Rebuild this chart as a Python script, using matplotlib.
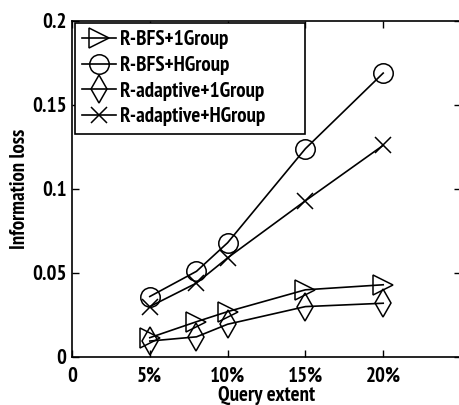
import matplotlib
matplotlib.use("Agg")
import matplotlib.pyplot as plt

# --- data ---
extent = [5, 8, 10, 15, 20]
bfs_1group = [0.0115, 0.021, 0.027, 0.040, 0.043]
bfs_hgroup = [0.036, 0.051, 0.068, 0.124, 0.169]
adapt_1group = [0.0095, 0.012, 0.0195, 0.030, 0.032]
adapt_hgroup = [0.030, 0.044, 0.059, 0.093, 0.126]

series_names = ["R-BFS+1Group", "R-BFS+HGroup", "R-adaptive+1Group", "R-adaptive+HGroup"]
x_ticks = [0, 5, 10, 15, 20]
x_ticklabels = ["0", "5%", "10%", "15%", "20%"]
y_ticks = [0, 0.05, 0.1, 0.15, 0.2]
y_ticklabels = ["0", "0.05", "0.1", "0.15", "0.2"]

plt.rcParams["font.family"] = ["PT Sans Narrow", "Archivo Narrow", "DejaVu Sans"]
plt.rcParams["font.weight"] = "bold"
plt.rcParams["axes.labelweight"] = "bold"

fig = plt.figure(figsize=(4.6, 4.05), dpi=100)
ax = fig.add_axes([72 / 460, 48 / 405, 389 / 460, 336 / 405])

styles = [(">", 14), ("o", 14), ("d", 14), ("x", 11)]
all_vals = [bfs_1group, bfs_hgroup, adapt_1group, adapt_hgroup]
for (marker, ms), vals, name in zip(styles, all_vals, series_names):
    ax.plot(extent, vals, color="black", linewidth=1.2, marker=marker,
            markersize=ms, markerfacecolor="none", markeredgecolor="black",
            markeredgewidth=1.1, label=name)

ax.set_xlim(0, 25)
ax.set_ylim(0, 0.2)
ax.set_xticks(x_ticks)
ax.set_xticklabels(x_ticklabels)
ax.set_yticks(y_ticks)
ax.set_yticklabels(y_ticklabels)
ax.tick_params(direction="in", top=True, right=True, length=5, width=1,
               labelsize=15)
ax.tick_params(axis="x", pad=7)
ax.tick_params(axis="y", pad=4)
for s in ax.spines.values():
    s.set_linewidth(1.2)

ax.set_xlabel("Query extent", fontsize=15, labelpad=0)
ax.set_ylabel("Information loss", fontsize=15, labelpad=2)

leg = ax.legend(loc="upper left", bbox_to_anchor=(0.008, 0.994, 0.591, 0.0),
                mode="expand", fontsize=15, frameon=True, fancybox=False,
                edgecolor="black", framealpha=1, handlelength=1.6,
                handletextpad=0.2, borderpad=0.35, labelspacing=0.32,
                borderaxespad=0.0)
leg.get_frame().set_linewidth(1.2)

fig.savefig("out.png", dpi=100)
